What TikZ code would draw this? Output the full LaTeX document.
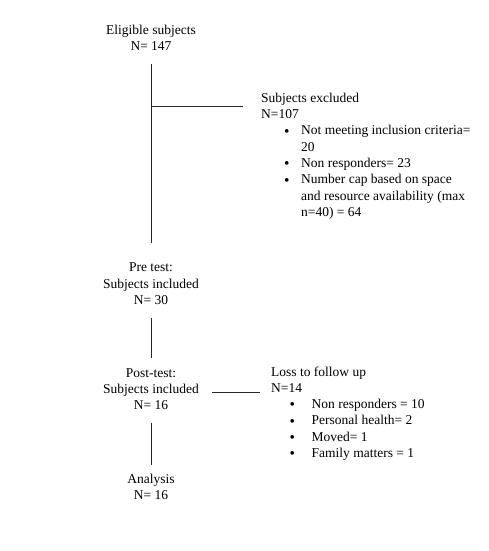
\documentclass[tikz,border=0pt]{standalone}
\usepackage{fontspec}
\setmainfont{Liberation Serif}
\newcommand{\bul}[2]{\hspace*{#1pt}\makebox[#2pt][l]{\raisebox{-1.2pt}{\scalebox{1.15}{\textbullet}}}}
\begin{document}
\begin{tikzpicture}[x=1pt,y=-1pt,
  txt/.style={inner sep=0pt,anchor=base,font=\fontsize{13.5}{16.3}\selectfont},
  conn/.style={line width=1pt,draw=black!85}]
\useasboundingbox (0,0) rectangle (489,551);
% left column
\node[txt] (elig) at (151,34.5) {\begin{tabular}[t]{@{}c@{}}Eligible subjects\\N= 147\end{tabular}};
\node[txt] (pre) at (151,271.7) {\begin{tabular}[t]{@{}c@{}}Pre test:\\Subjects included\\N= 30\end{tabular}};
\node[txt] (post) at (151,377) {\begin{tabular}[t]{@{}c@{}}Post-test:\\Subjects included\\N= 16\end{tabular}};
\node[txt] (ana) at (151,483.3) {\begin{tabular}[t]{@{}c@{}}Analysis\\N= 16\end{tabular}};
% right blocks
\node[txt,anchor=base west] (excl) at (261,102.3) {\begin{tabular}[t]{@{}l@{}}Subjects excluded\\N=107\\
\bul{23}{17}Not meeting inclusion criteria=\\
\hspace*{40pt}20\\
\bul{23}{17}Non responders= 23\\
\bul{23}{17}Number cap based on space\\
\hspace*{40pt}and resource availability (max\\
\hspace*{40pt}n=40) = 64\end{tabular}};
\node[txt,anchor=base west] (loss) at (271,376) {\begin{tabular}[t]{@{}l@{}}Loss to follow up\\N=14\\
\bul{18.5}{22}Non responders = 10\\
\bul{18.5}{22}Personal health= 2\\
\bul{18.5}{22}Moved= 1\\
\bul{18.5}{22}Family matters = 1\end{tabular}};
% connector end points
\coordinate (a1) at (151,64.3);
\coordinate (a2) at (151,243.3);
\coordinate (b0) at (151,106.7);
\coordinate (b1) at (242.7,106.7);
\coordinate (c1) at (151,317.7);
\coordinate (c2) at (151,358.3);
\coordinate (d1) at (212,392.3);
\coordinate (d2) at (260,392.3);
\coordinate (e1) at (151,422.7);
\coordinate (e2) at (151,465);
\draw[conn] (a1) -- (a2);
\draw[conn] (b0) -- (b1);
\draw[conn] (c1) -- (c2);
\draw[conn] (d1) -- (d2);
\draw[conn] (e1) -- (e2);
\end{tikzpicture}
\end{document}
